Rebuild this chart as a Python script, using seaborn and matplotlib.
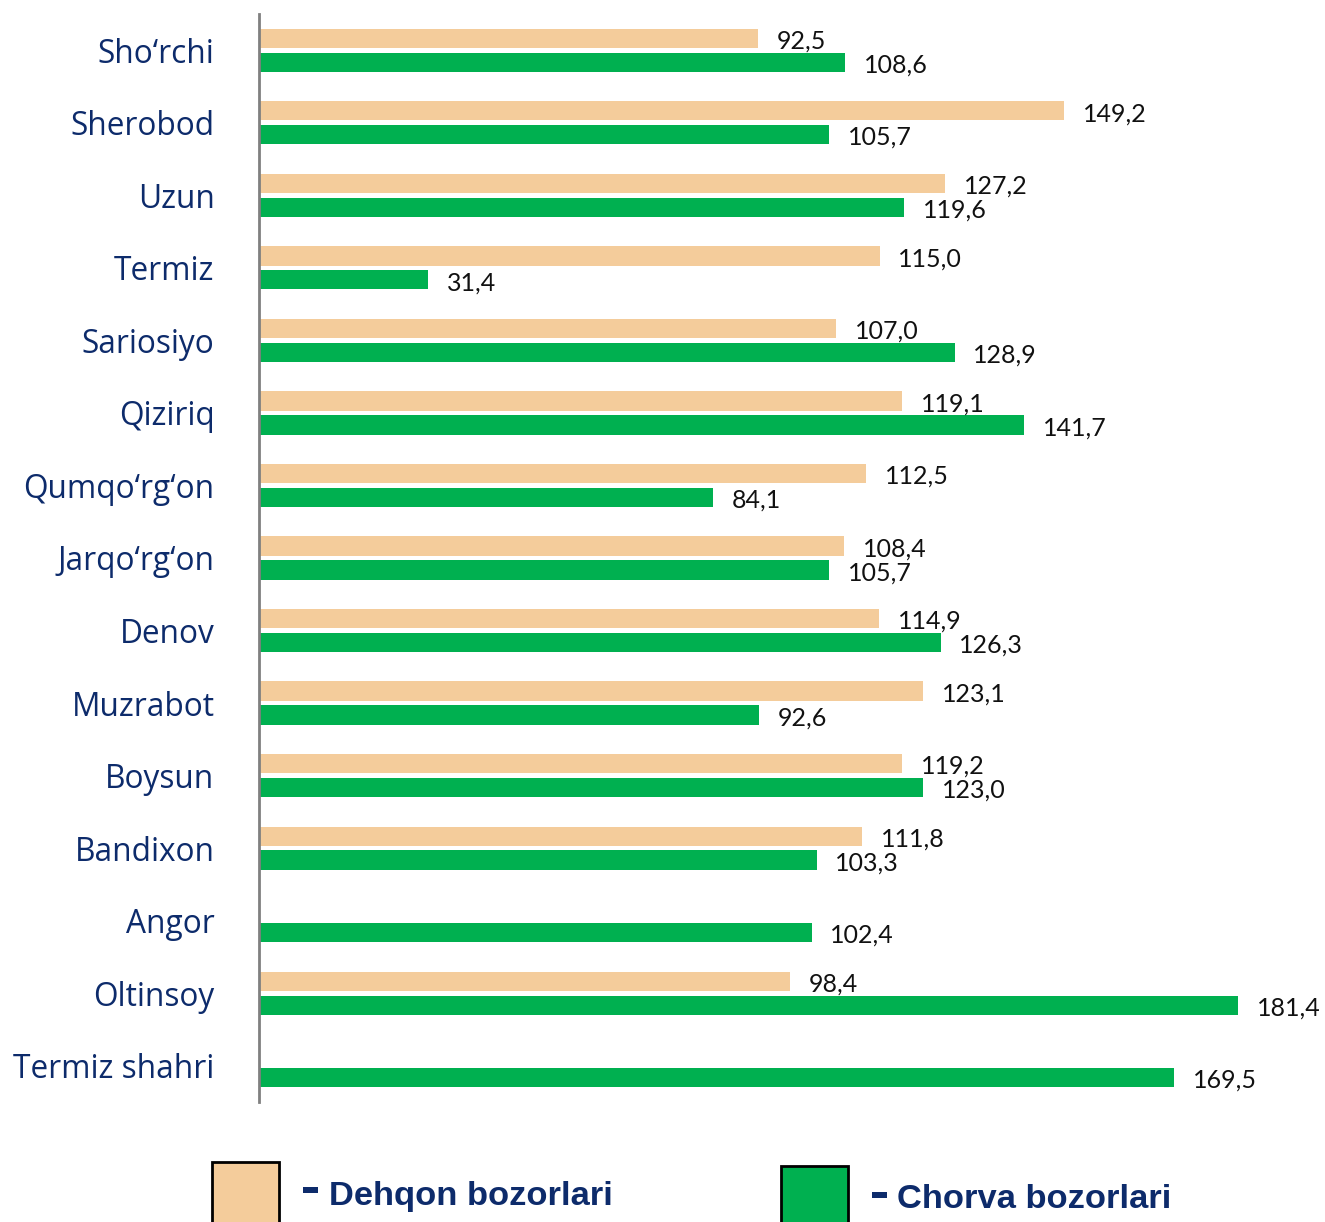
import numpy as np
import pandas as pd
import matplotlib
matplotlib.use("Agg")
import matplotlib.pyplot as plt
from matplotlib.patches import Rectangle
import seaborn as sns

categories = ["Sho‘rchi", "Sherobod", "Uzun", "Termiz", "Sariosiyo", "Qiziriq",
              "Qumqo‘rg‘on", "Jarqo‘rg‘on", "Denov", "Muzrabot", "Boysun",
              "Bandixon", "Angor", "Oltinsoy", "Termiz shahri"]
dehqon = [92.5, 149.2, 127.2, 115.0, 107.0, 119.1, 112.5, 108.4, 114.9, 123.1,
          119.2, 111.8, np.nan, 98.4, np.nan]
chorva = [108.6, 105.7, 119.6, 31.4, 128.9, 141.7, 84.1, 105.7, 126.3, 92.6,
          123.0, 103.3, 102.4, 181.4, 169.5]
series = ["Dehqon bozorlari", "Chorva bozorlari"]
colors = ["#F4CC9B", "#00B050"]

df = pd.DataFrame({
    "hudud": categories * 2,
    "seriya": [series[0]] * len(categories) + [series[1]] * len(categories),
    "qiymat": dehqon + chorva,
})

sns.set_theme(style="white")
plt.rcParams["font.family"] = ["Open Sans", "DejaVu Sans"]

fig = plt.figure(figsize=(13.25, 12.22), dpi=100)
ax = fig.add_axes([259 / 1325, 1 - 1102 / 1222, 1 - 259 / 1325, (1102 - 14) / 1222])

sns.barplot(data=df, y="hudud", x="qiymat", hue="seriya", order=categories,
            hue_order=series, palette=colors, width=0.66, orient="h",
            ax=ax, legend=False, saturation=1, errorbar=None)

for p in ax.patches:
    c = p.get_y() + p.get_height() / 2
    p.set_height(0.265)
    p.set_y(c - 0.1325)
    p.set_linewidth(0)

def fmt(v):
    if v is None or np.isnan(v):
        return ""
    return f"{v:.1f}".replace(".", ",")

for cont in ax.containers:
    anns = ax.bar_label(cont, labels=[fmt(v) for v in cont.datavalues], padding=13.5,
                        fontsize=18, color="#111111", family=["Lato", "DejaVu Sans"])
    for a in anns:
        a.xyann = (13.5, -2)

ax.set_xlim(0, 1066 / 5.397)
ax.set_ylim(14.5, -0.5)
ax.set_xlabel("")
ax.set_ylabel("")
ax.set_xticks([])
for s in ["top", "right", "bottom"]:
    ax.spines[s].set_visible(False)
ax.spines["left"].set_color("#808080")
ax.spines["left"].set_linewidth(2)
ax.tick_params(axis="y", length=0, pad=32, labelsize=22.8, labelcolor="#0D2B6B")

# legend
W, H = 1325, 1222
def frect(x, y, w, h, **kw):
    fig.add_artist(Rectangle((x / W, 1 - (y + h) / H), w / W, h / H,
                             transform=fig.transFigure, clip_on=False, **kw))

frect(212, 1162, 67, 70, facecolor=colors[0], edgecolor="black", linewidth=2)
frect(781, 1166, 67, 70, facecolor=colors[1], edgecolor="black", linewidth=2)
frect(303, 1187, 15, 6, facecolor="#0D2B6B", edgecolor="none")
frect(872, 1192, 15, 6, facecolor="#0D2B6B", edgecolor="none")
fig.text(329 / W, 1 - 1196 / H, series[0], fontsize=24.8, fontweight="bold",
         color="#0D2B6B", family=["Liberation Sans", "DejaVu Sans"], va="center")
fig.text(897 / W, 1 - 1200 / H, series[1], fontsize=24.8, fontweight="bold",
         color="#0D2B6B", family=["Liberation Sans", "DejaVu Sans"], va="center")

fig.savefig("out.png", dpi=100)
